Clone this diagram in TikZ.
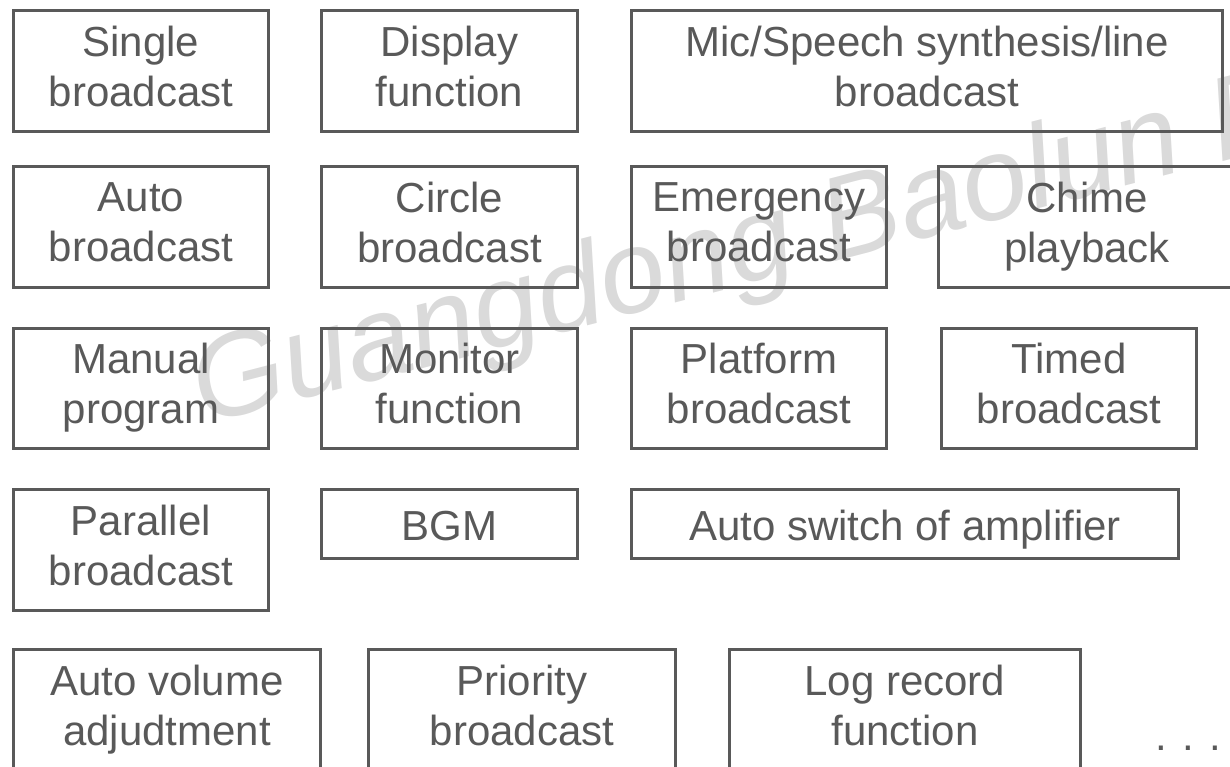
\documentclass[tikz,border=0pt]{standalone}
\usepackage{fontspec}
\setmainfont{Liberation Sans}
\definecolor{inkgray}{HTML}{595959}
\definecolor{wmgray}{HTML}{DADADA}
\newcommand{\lnstrut}{\rule[-10pt]{0pt}{52pt}}
\tikzset{
  fbox/.style={draw=inkgray, line width=3pt, text=inkgray, align=center,
    font=\fontsize{42}{50}\selectfont, inner sep=0pt,
    execute at begin node=\lnstrut, execute at end node=\lnstrut},
}
\begin{document}
\begin{tikzpicture}[x=1pt,y=-1pt]
\useasboundingbox (0,0) rectangle (1230,766);
\clip (0,0) rectangle (1230,766);
\node[text=wmgray, font=\fontsize{118}{125}\selectfont\itshape, rotate=14.5, anchor=base west, inner sep=0pt]
  (watermark) at (203,425) {Guangdong Baolun E};
% row 1
\node[fbox, minimum width=255pt, minimum height=121pt] (single) at (141,71) {Single\\broadcast};
\node[fbox, minimum width=256pt, minimum height=121pt] (display) at (449.5,71) {Display\\function};
\node[fbox, minimum width=591pt, minimum height=121pt] (mic) at (927,71) {Mic/Speech synthesis/line\\broadcast};
% row 2
\node[fbox, minimum width=255pt, minimum height=121pt] (auto) at (141,227) {Auto\\broadcast};
\node[fbox, minimum width=256pt, minimum height=121pt] (circle) at (449.5,227) {Circle\\broadcast};
\node[fbox, minimum width=255pt, minimum height=121pt] (emergency) at (759,227) {Emergency\\broadcast};
\node[fbox, minimum width=297pt, minimum height=121pt] (chime) at (1087,227) {Chime\\playback};
% row 3
\node[fbox, minimum width=255pt, minimum height=120pt] (manual) at (141,388.5) {Manual\\program};
\node[fbox, minimum width=256pt, minimum height=120pt] (monitor) at (449.5,388.5) {Monitor\\function};
\node[fbox, minimum width=255pt, minimum height=120pt] (platform) at (759,388.5) {Platform\\broadcast};
\node[fbox, minimum width=255pt, minimum height=120pt] (timed) at (1069,388.5) {Timed\\broadcast};
% row 4
\node[fbox, minimum width=255pt, minimum height=121pt] (parallel) at (141,550) {Parallel\\broadcast};
\node[fbox, minimum width=256pt, minimum height=69pt] (bgm) at (449.5,524) {BGM};
\node[fbox, minimum width=547pt, minimum height=69pt] (autoswitch) at (905,524) {Auto switch of amplifier};
% row 5
\node[fbox, minimum width=307pt, minimum height=121pt] (autovol) at (167,710) {Auto volume\\adjudtment};
\node[fbox, minimum width=307pt, minimum height=121pt] (priority) at (522,710) {Priority\\broadcast};
\node[fbox, minimum width=351pt, minimum height=121pt] (logrec) at (905,710) {Log record\\function};
\node[text=inkgray, font=\fontsize{42}{50}\selectfont, anchor=base west, inner sep=0pt] (dots) at (1155,750) {. . .};
\end{tikzpicture}
\end{document}
